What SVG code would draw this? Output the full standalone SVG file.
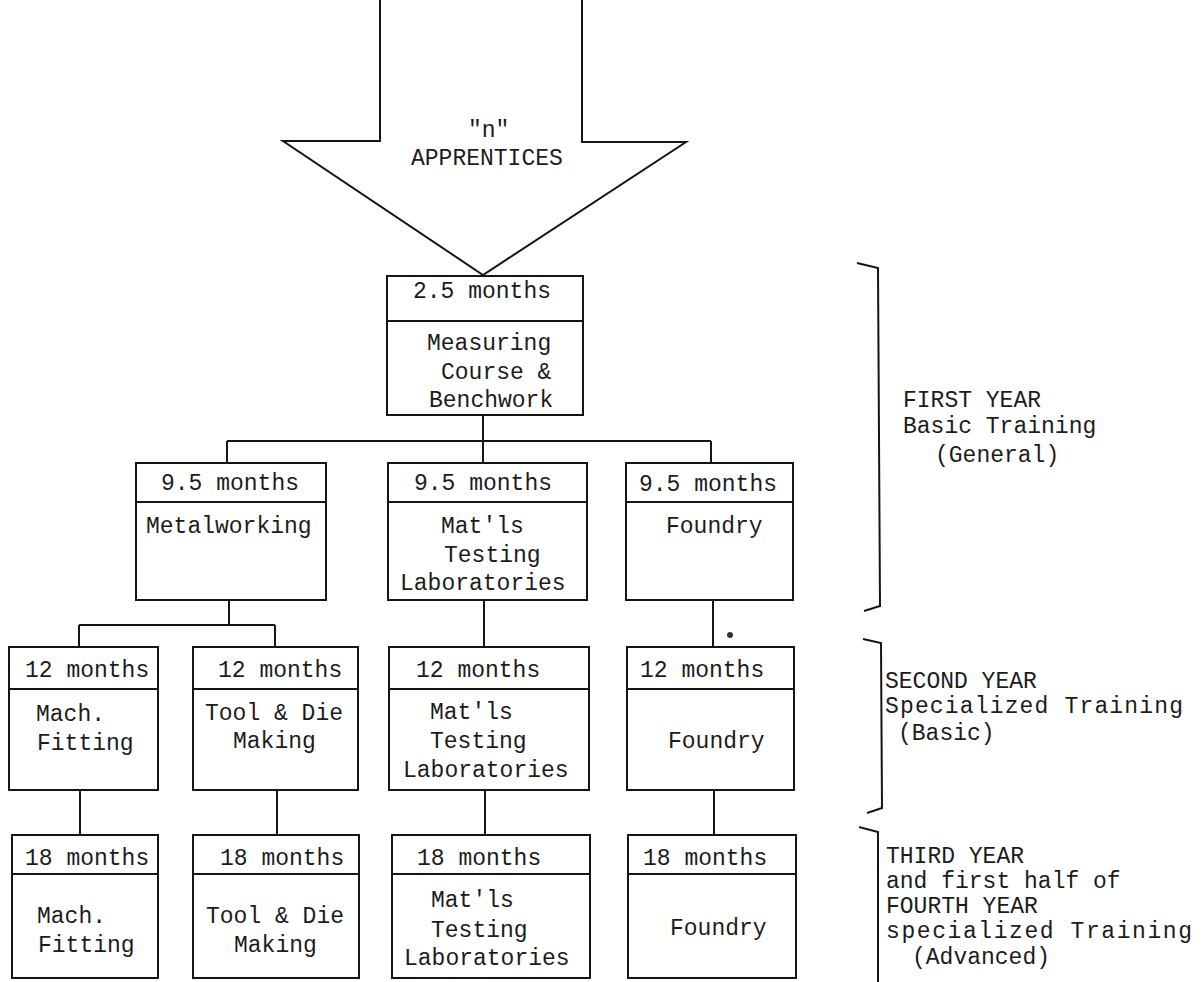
<svg xmlns="http://www.w3.org/2000/svg" width="1202" height="982" viewBox="0 0 1202 982">
  <style>
    .box { fill: none; stroke: #151515; stroke-width: 2; }
    .wire { fill: none; stroke: #151515; stroke-width: 2; }
    .t { font-family: "Liberation Mono", "DejaVu Sans Mono", monospace; font-size: 23px; fill: #1c1c1c; }
  </style>
  <rect width="1202" height="982" fill="#ffffff"/>

  <!-- intake arrow -->
  <g id="intake">
    <path class="wire" d="M380,0 L380,141 L283,141 L483,275 L686,142 L582,142 L582,0"/>
    <text class="t" x="468" y="137">"n"</text>
    <text class="t" x="411" y="165">APPRENTICES</text>
  </g>

  <!-- connectors -->
  <g id="connectors">
    <path class="wire" d="M483,415 V463 M227,441 H711 M227,441 V463 M711,441 V463"/>
    <path class="wire" d="M229,600 V625 M79,625 H275 M79,625 V647 M275,625 V647"/>
    <path class="wire" d="M484,600 V647 M713,600 V647"/>
    <path class="wire" d="M80,790 V835 M277,790 V835 M485,790 V835 M714,790 V835"/>
    <circle cx="730" cy="635" r="3" fill="#333"/>
  </g>

  <!-- first year -->
  <g id="measuring">
    <rect class="box" x="387" y="276" width="196" height="139"/>
    <line class="box" x1="387" y1="321" x2="583" y2="321"/>
    <text class="t" x="413" y="298">2.5 months</text>
    <text class="t" x="427" y="350">Measuring</text>
    <text class="t" x="441" y="379">Course &amp;</text>
    <text class="t" x="429" y="407">Benchwork</text>
  </g>
  <g id="metalworking">
    <rect class="box" x="136" y="463" width="190" height="137"/>
    <line class="box" x1="136" y1="502" x2="326" y2="502"/>
    <text class="t" x="161" y="490">9.5 months</text>
    <text class="t" x="146" y="533">Metalworking</text>
  </g>
  <g id="matls-1">
    <rect class="box" x="388" y="463" width="199" height="137"/>
    <line class="box" x1="388" y1="502" x2="587" y2="502"/>
    <text class="t" x="414" y="490">9.5 months</text>
    <text class="t" x="441" y="533">Mat'ls</text>
    <text class="t" x="444" y="562">Testing</text>
    <text class="t" x="400" y="590">Laboratories</text>
  </g>
  <g id="foundry-1">
    <rect class="box" x="626" y="463" width="167" height="137"/>
    <line class="box" x1="626" y1="502" x2="793" y2="502"/>
    <text class="t" x="639" y="491">9.5 months</text>
    <text class="t" x="666" y="533">Foundry</text>
  </g>

  <!-- second year -->
  <g id="fitting-2">
    <rect class="box" x="9" y="647" width="149" height="143"/>
    <line class="box" x1="9" y1="689" x2="158" y2="689"/>
    <text class="t" x="25" y="677">12 months</text>
    <text class="t" x="36" y="721">Mach.</text>
    <text class="t" x="37" y="750">Fitting</text>
  </g>
  <g id="toolmaking-2">
    <rect class="box" x="193" y="647" width="165" height="143"/>
    <line class="box" x1="193" y1="689" x2="358" y2="689"/>
    <text class="t" x="218" y="677">12 months</text>
    <text class="t" x="205" y="720">Tool &amp; Die</text>
    <text class="t" x="233" y="748">Making</text>
  </g>
  <g id="matls-2">
    <rect class="box" x="389" y="647" width="200" height="143"/>
    <line class="box" x1="389" y1="689" x2="589" y2="689"/>
    <text class="t" x="416" y="677">12 months</text>
    <text class="t" x="430" y="719">Mat'ls</text>
    <text class="t" x="430" y="748">Testing</text>
    <text class="t" x="403" y="777">Laboratories</text>
  </g>
  <g id="foundry-2">
    <rect class="box" x="627" y="647" width="167" height="143"/>
    <line class="box" x1="627" y1="689" x2="794" y2="689"/>
    <text class="t" x="640" y="677">12 months</text>
    <text class="t" x="668" y="748">Foundry</text>
  </g>

  <!-- third year and first half of fourth year -->
  <g id="fitting-3">
    <rect class="box" x="12" y="835" width="146" height="143"/>
    <line class="box" x1="12" y1="874" x2="158" y2="874"/>
    <text class="t" x="25" y="865">18 months</text>
    <text class="t" x="37" y="923">Mach.</text>
    <text class="t" x="38" y="952">Fitting</text>
  </g>
  <g id="toolmaking-3">
    <rect class="box" x="193" y="835" width="166" height="143"/>
    <line class="box" x1="193" y1="874" x2="359" y2="874"/>
    <text class="t" x="220" y="865">18 months</text>
    <text class="t" x="206" y="923">Tool &amp; Die</text>
    <text class="t" x="234" y="952">Making</text>
  </g>
  <g id="matls-3">
    <rect class="box" x="392" y="835" width="198" height="143"/>
    <line class="box" x1="392" y1="874" x2="590" y2="874"/>
    <text class="t" x="417" y="865">18 months</text>
    <text class="t" x="431" y="907">Mat'ls</text>
    <text class="t" x="431" y="937">Testing</text>
    <text class="t" x="404" y="965">Laboratories</text>
  </g>
  <g id="foundry-3">
    <rect class="box" x="628" y="835" width="168" height="143"/>
    <line class="box" x1="628" y1="874" x2="796" y2="874"/>
    <text class="t" x="643" y="865">18 months</text>
    <text class="t" x="670" y="935">Foundry</text>
  </g>

  <!-- year brackets and labels -->
  <g id="year-1">
    <path class="wire" d="M857,263 L878,268 L880,606 L864,611"/>
    <text class="t" x="903" y="407">FIRST YEAR</text>
    <text class="t" x="903" y="433">Basic Training</text>
    <text class="t" x="935" y="462">(General)</text>
  </g>
  <g id="year-2">
    <path class="wire" d="M863,639 L881,643 L882,808 L867,813"/>
    <text class="t" x="885" y="688">SECOND YEAR</text>
    <text class="t" x="885" y="713" textLength="298" lengthAdjust="spacing">Specialized Training</text>
    <text class="t" x="898" y="740">(Basic)</text>
  </g>
  <g id="year-3">
    <path class="wire" d="M859,827 L878,832 L878,982"/>
    <text class="t" x="886" y="863">THIRD YEAR</text>
    <text class="t" x="886" y="888">and first half of</text>
    <text class="t" x="886" y="913">FOURTH YEAR</text>
    <text class="t" x="886" y="938" textLength="306" lengthAdjust="spacing">specialized Training</text>
    <text class="t" x="912" y="964">(Advanced)</text>
  </g>
</svg>
